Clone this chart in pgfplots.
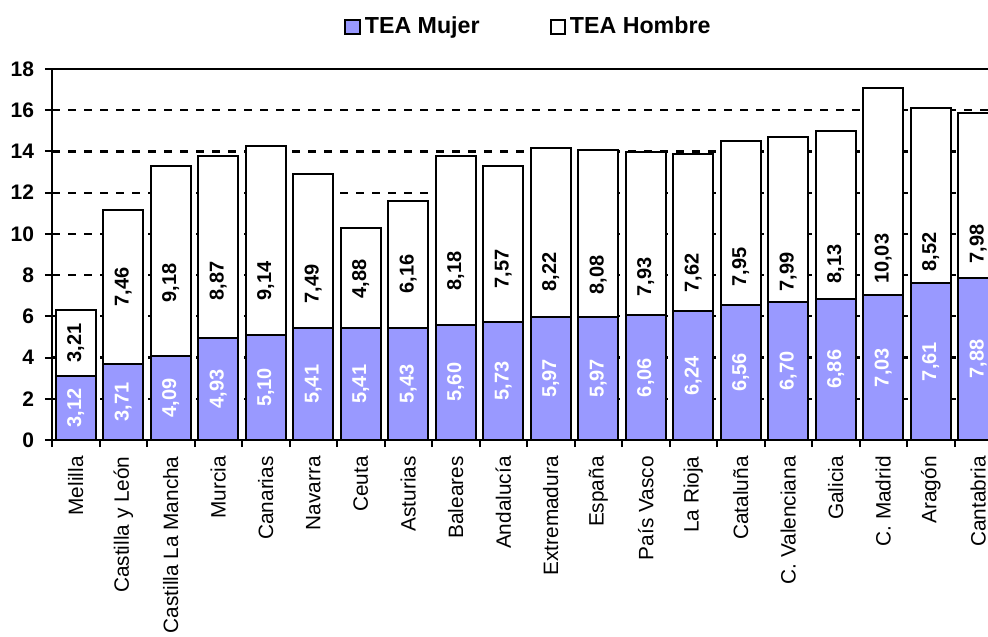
\documentclass[border=0pt]{standalone}
\usepackage{fontspec}
\setmainfont{Liberation Sans}
\usepackage{pgfplots}
\pgfplotsset{compat=1.18}
\usepackage{pgfplotstable}
\definecolor{mujer}{HTML}{9999FF}
\newcommand\fs[1]{\fontsize{#1}{#1}\selectfont}

\pgfplotstableread{
x m h
0 3.12 3.21
1 3.71 7.46
2 4.09 9.18
3 4.93 8.87
4 5.10 9.14
5 5.41 7.49
6 5.41 4.88
7 5.43 6.16
8 5.60 8.18
9 5.73 7.57
10 5.97 8.22
11 5.97 8.08
12 6.06 7.93
13 6.24 7.62
14 6.56 7.95
15 6.70 7.99
16 6.86 8.13
17 7.03 10.03
18 7.61 8.52
19 7.88 7.98
}\datatab

\pgfplotstableread{
x y lab
0 1.56 3,12
1 1.855 3,71
2 2.045 4,09
3 2.465 4,93
4 2.55 5,10
5 2.705 5,41
6 2.705 5,41
7 2.715 5,43
8 2.80 5,60
9 2.865 5,73
10 2.985 5,97
11 2.985 5,97
12 3.03 6,06
13 3.12 6,24
14 3.28 6,56
15 3.35 6,70
16 3.43 6,86
17 3.515 7,03
18 3.805 7,61
19 3.94 7,88
}\labM

\pgfplotstableread{
x y lab
0 4.71 3,21
1 7.43 7,46
2 7.62 9,18
3 7.72 8,87
4 7.72 9,14
5 7.57 7,49
6 7.82 4,88
7 8.06 6,16
8 8.20 8,18
9 8.30 7,57
10 8.16 8,22
11 8.01 8,08
12 7.91 7,93
13 8.11 7,62
14 8.40 7,95
15 8.16 7,99
16 8.54 8,13
17 8.79 10,03
18 9.13 8,52
19 9.51 7,98
}\labH

\begin{document}
\begin{tikzpicture}
\begin{axis}[
  name=ax,
  scale only axis,
  width=475pt, height=185.5pt,
  xmin=-0.5, xmax=19.5,
  ymin=0, ymax=18,
  ybar stacked,
  bar width=20pt,
  axis line style={black, line width=1pt},
  ytick={0,2,...,18},
  xtick={0,...,19},
  xticklabels={Melilla, Castilla y León, Castilla La Mancha, Murcia, Canarias, Navarra, Ceuta, Asturias, Baleares, Andalucía, Extremadura, España, País Vasco, La Rioja, Cataluña, C. Valenciana, Galicia, C. Madrid, Aragón, Cantabria},
  minor xtick={-0.5,0.5,...,19.5},
  tick align=outside,
  tick pos=left,
  major tick length=3.5pt,
  minor tick length=3.5pt,
  major x tick style={draw=none},
  minor x tick style={black, line width=1pt},
  major y tick style={black, line width=1pt},
  ymajorgrids,
  major grid style={black, line width=1.1pt, dash pattern=on 4pt off 4pt},
  /pgf/number format/assume math mode=true,
  yticklabel style={font=\bfseries\fs{10.5}, xshift=-2pt},
  xticklabel shift=4.5pt,
  xticklabel style={rotate=90, anchor=east, font=\fs{10.4}, inner sep=0pt},
  legend columns=2,
  legend style={at={(0.5026,1.113)}, anchor=center, draw=none, fill=none,
    font=\bfseries\fs{11.6}, inner sep=0pt,
    /tikz/every even column/.append style={column sep=33pt},
    nodes={inner sep=2pt}},
  legend image code/.code={\draw[#1, line width=1pt] (0pt,-3.6pt) rectangle (7.2pt,3.6pt);},
]
\addplot[fill=mujer, draw=black, line width=1pt] table[x=x, y=m] {\datatab};
\addlegendentry{TEA Mujer}
\addplot[fill=white, draw=black, line width=1pt] table[x=x, y=h] {\datatab};
\addlegendentry{TEA Hombre}
\end{axis}

\begin{axis}[
  at={(ax.south west)}, anchor=south west,
  scale only axis,
  width=475pt, height=185.5pt,
  xmin=-0.5, xmax=19.5,
  ymin=0, ymax=18,
  hide axis, clip=false,
]
\addplot[draw=none, mark=none, nodes near coords, point meta=explicit symbolic,
  nodes near coords style={rotate=90, anchor=center, font=\bfseries\fs{10}, text=white, inner sep=0pt}]
  table[x=x, y=y, meta=lab] {\labM};
\addplot[draw=none, mark=none, nodes near coords, point meta=explicit symbolic,
  nodes near coords style={rotate=90, anchor=center, font=\bfseries\fs{10}, text=black, inner sep=0pt}]
  table[x=x, y=y, meta=lab] {\labH};
\end{axis}

\pgfresetboundingbox
\path[use as bounding box] ([shift={(-26pt,-98pt)}]ax.south west) rectangle ([shift={(468pt,220pt)}]ax.south west);
\end{tikzpicture}
\end{document}
